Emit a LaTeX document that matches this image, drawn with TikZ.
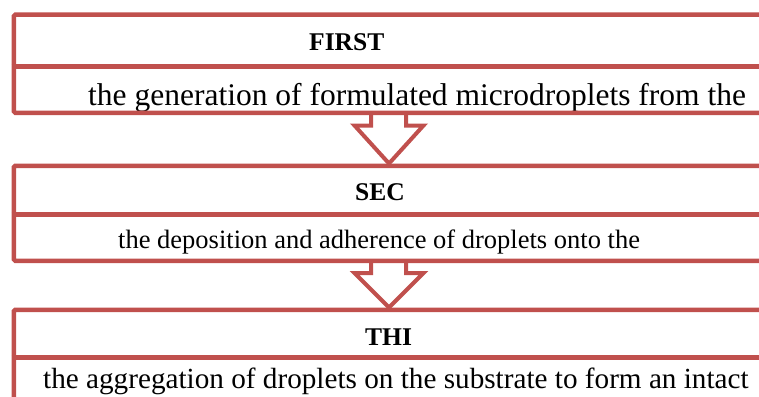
\documentclass[tikz,border=0pt]{standalone}
\usepackage{fontspec}
\setmainfont{LiberationSerif}[Extension=.ttf, UprightFont=*-Regular, BoldFont=*-Bold, ItalicFont=*-Italic, BoldItalicFont=*-BoldItalic]
\newfontfamily\tnr{LiberationSerif}[Extension=.ttf, UprightFont=*-Regular, BoldFont=*-Bold, ItalicFont=*-Italic, BoldItalicFont=*-BoldItalic]
\definecolor{boxred}{HTML}{C0504D}
\begin{document}
\begin{tikzpicture}[x=1pt,y=-1pt,
  frame/.style={draw=boxred, line width=4.5pt, rounded corners=1.5pt, inner sep=0pt, anchor=north west},
  divider/.style={draw=boxred, line width=4.5pt},
  blockarrow/.style={draw=boxred, line width=4pt, line join=miter},
  head/.style={font=\tnr\bfseries\fontsize{25.5}{30}\selectfont, anchor=base west, inner sep=0pt},
  body/.style={anchor=base west, inner sep=0pt}]
\useasboundingbox (0,0) rectangle (759,396);
\clip (0,0) rectangle (759,396);
% texts
\node[head] (t1) at (309,50) {FIRST};
\node[body, font=\tnr\fontsize{31.5}{36}\selectfont] (d1) at (88,105) {the generation of formulated microdroplets from the};
\node[head] (t2) at (355,200) {SEC};
\node[body, font=\tnr\fontsize{26.5}{31}\selectfont] (d2) at (118,248) {the deposition and adherence of droplets onto the};
\node[head] (t3) at (365,345) {THI};
\node[body, font=\tnr\fontsize{29.2}{34}\selectfont] (d3) at (43,388) {the aggregation of droplets on the substrate to form an intact};
% boxes
\node[frame, minimum width=790pt, minimum height=98pt] (b1) at (11.5,12.5) {};
\node[frame, minimum width=790pt, minimum height=95pt] (b2) at (11.5,163.5) {};
\node[frame, minimum width=790pt, minimum height=110pt] (b3) at (11.5,307.5) {};
\draw[divider] (b1.west |- 0,66.5) -- (b1.east |- 0,66.5);
\draw[divider] (b2.west |- 0,214.5) -- (b2.east |- 0,214.5);
\draw[divider] (b3.west |- 0,357.5) -- (b3.east |- 0,357.5);
% block arrows
\draw[blockarrow] (371,0 |- b1.south) -- (371,125.5) -- (354.5,125.5) -- (389,0 |- b2.north) -- (423.5,125.5) -- (406,125.5) -- (406,0 |- b1.south);
\draw[blockarrow] (371,0 |- b2.south) -- (371,273) -- (354.5,273) -- (389,0 |- b3.north) -- (423.5,273) -- (406,273) -- (406,0 |- b2.south);
\end{tikzpicture}
\end{document}
